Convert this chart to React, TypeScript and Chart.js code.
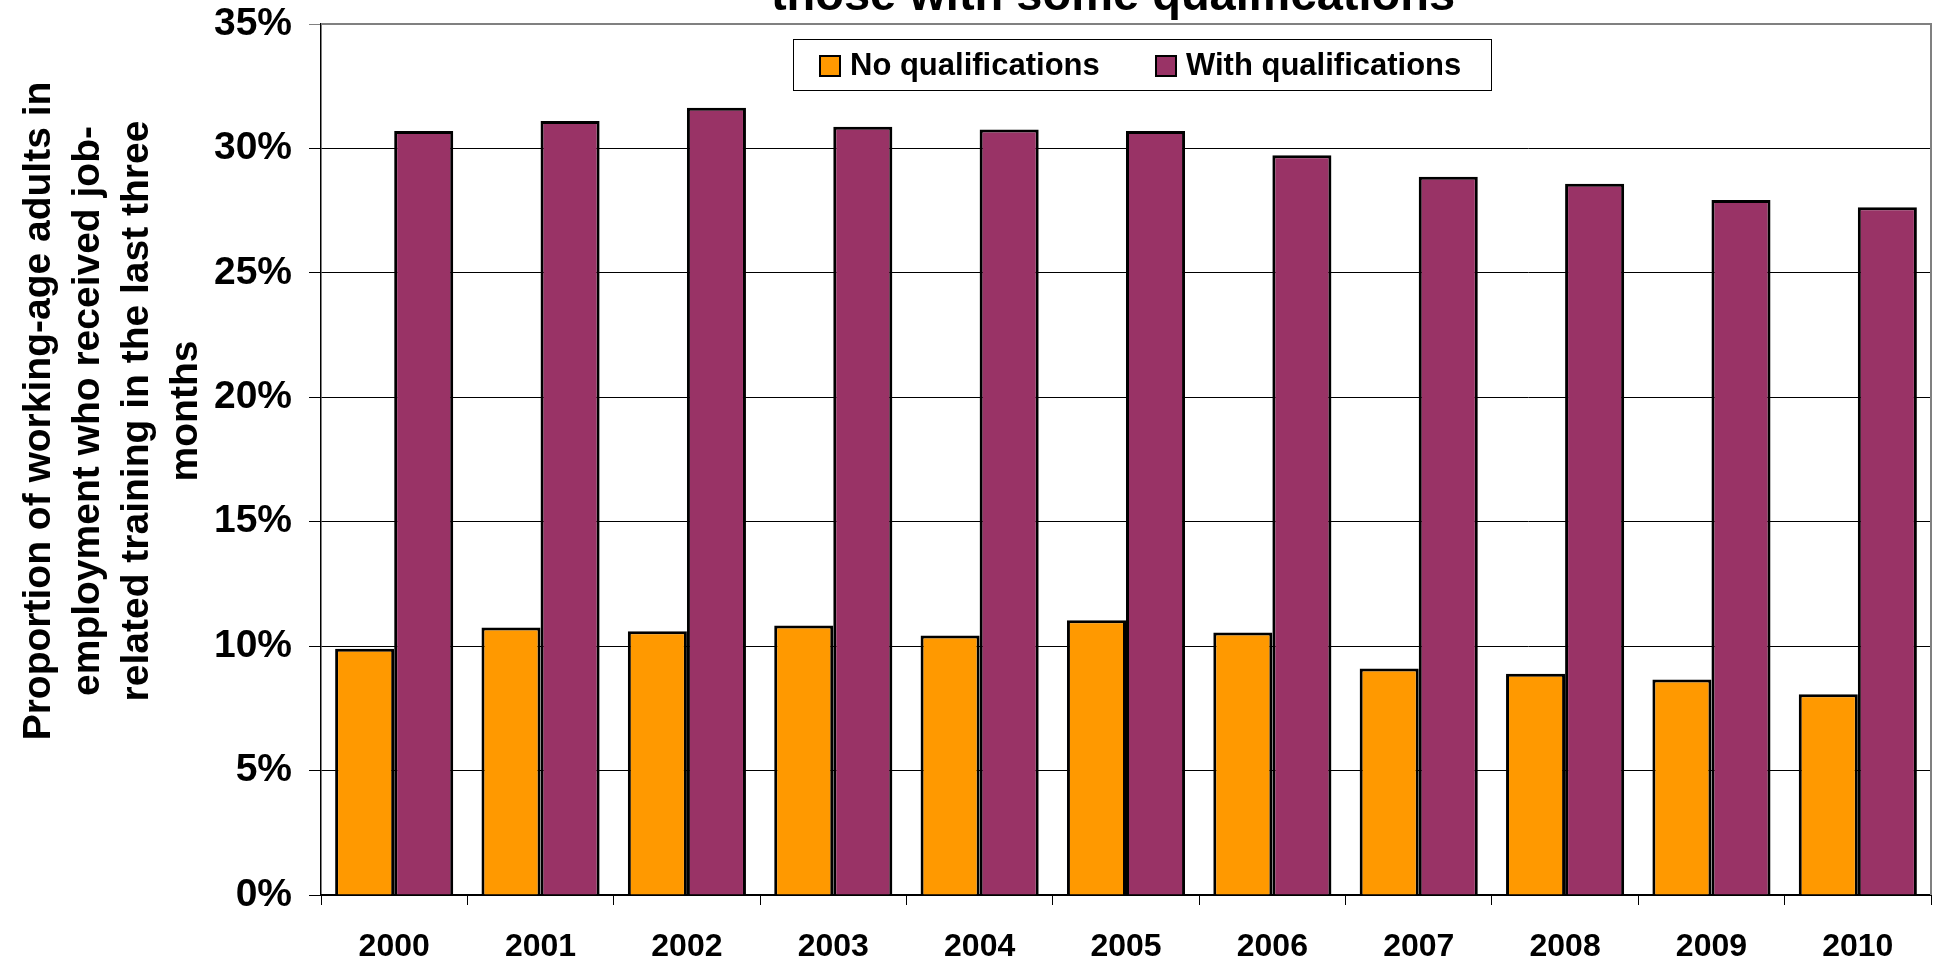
import React, { useEffect, useRef } from "react";
import { Chart, registerables } from "chart.js";

Chart.register(...registerables);

const YEARS = ["2000", "2001", "2002", "2003", "2004", "2005", "2006", "2007", "2008", "2009", "2010"];
const NO_QUAL = [9.9, 10.75, 10.6, 10.83, 10.43, 11.04, 10.55, 9.1, 8.89, 8.66, 8.07];
const WITH_QUAL = [30.7, 31.1, 31.63, 30.87, 30.76, 30.7, 29.73, 28.86, 28.58, 27.93, 27.64];
const SERIES_LABELS = ["No qualifications", "With qualifications"];
const SERIES_COLORS = ["#FF9900", "#993366"];
const TITLE_LINE = "those with some qualifications";
const Y_TITLE_LINES = [
  "Proportion of working-age adults in",
  "employment who received job-",
  "related training in the last three",
  "months",
];
const Y_MIN = 0;
const Y_MAX = 35;
const Y_STEP = 5;

const FONT = "'Liberation Sans', Arial, sans-serif";

const decorPlugin = {
  id: "decor",
  afterDraw(chart: any) {
    const ctx = chart.ctx;
    const area = chart.chartArea;
    ctx.save();
    // plot border top/right
    ctx.strokeStyle = "#808080";
    ctx.lineWidth = 2;
    ctx.beginPath();
    ctx.moveTo(area.left, area.top);
    ctx.lineTo(area.right, area.top);
    ctx.lineTo(area.right, area.bottom);
    ctx.stroke();

    // title (second line visible)
    ctx.fillStyle = "#000";
    ctx.font = `bold 47px ${FONT}`;
    ctx.textAlign = "center";
    ctx.textBaseline = "alphabetic";
    ctx.fillText(TITLE_LINE, 1113, 10);

    // y title
    ctx.save();
    ctx.translate(0, 411);
    ctx.rotate(-Math.PI / 2);
    ctx.font = `bold 39px ${FONT}`;
    ctx.textAlign = "center";
    ctx.textBaseline = "middle";
    Y_TITLE_LINES.forEach((line, i) => {
      ctx.fillText(line, 0, 39 + i * 49);
    });
    ctx.restore();

    // legend
    const bx = 793.5, by = 39.5, bw = 698, bh = 51;
    ctx.fillStyle = "#fff";
    ctx.fillRect(bx, by, bw, bh);
    ctx.strokeStyle = "#000";
    ctx.lineWidth = 1;
    ctx.strokeRect(bx, by, bw, bh);
    const swX = [820, 1156];
    const txX = [850, 1186];
    ctx.font = `bold 31px ${FONT}`;
    ctx.textAlign = "left";
    ctx.textBaseline = "middle";
    SERIES_LABELS.forEach((lab, i) => {
      ctx.fillStyle = SERIES_COLORS[i];
      ctx.fillRect(swX[i], 56, 20, 20);
      ctx.strokeStyle = "#000";
      ctx.lineWidth = 2;
      ctx.strokeRect(swX[i], 56, 20, 20);
      ctx.fillStyle = "#000";
      ctx.fillText(lab, txX[i], 66);
    });
    ctx.restore();
  },
};

export default function App() {
  const ref = useRef<HTMLCanvasElement | null>(null);
  useEffect(() => {
    if (!ref.current) return;
    const chart = new Chart(ref.current, {
      type: "bar",
      data: {
        labels: YEARS,
        datasets: [
          {
            label: SERIES_LABELS[0],
            data: NO_QUAL,
            backgroundColor: SERIES_COLORS[0],
            borderColor: "#000",
            borderWidth: 3,
            categoryPercentage: 0.807,
            barPercentage: 1,
          },
          {
            label: SERIES_LABELS[1],
            data: WITH_QUAL,
            backgroundColor: SERIES_COLORS[1],
            borderColor: "#000",
            borderWidth: 3,
            categoryPercentage: 0.807,
            barPercentage: 1,
          },
        ],
      },
      options: {
        responsive: false,
        animation: false,
        devicePixelRatio: 1,
        layout: { padding: { left: 0, right: 4, top: 24, bottom: 0 } },
        plugins: {
          legend: { display: false },
          title: { display: false },
          tooltip: { enabled: false },
        },
        scales: {
          x: {
            offset: true,
            grid: {
              offset: true,
              drawOnChartArea: false,
              drawTicks: true,
              tickLength: 10,
              color: "#000",
              lineWidth: 1,
            },
            border: { color: "#000", width: 2 },
            ticks: {
              color: "#000",
              font: { family: FONT, size: 32, weight: "bold" },
              padding: 23,
              maxRotation: 0,
              autoSkip: false,
            },
            afterFit(scale: any) {
              scale.height = 63;
              scale.paddingLeft = 0;
              scale.paddingRight = 0;
            },
          },
          y: {
            min: Y_MIN,
            max: Y_MAX,
            grid: {
              color: (c: any) => (c.tick && c.tick.value === Y_MAX ? "#808080" : "#000"),
              lineWidth: 1,
              drawTicks: true,
              tickLength: 12,
            },
            border: { color: "#000", width: 1.5 },
            ticks: {
              stepSize: Y_STEP,
              color: "#000",
              font: { family: FONT, size: 39, weight: "bold" },
              padding: 17,
              callback: (v: any) => `${v}%`,
            },
            afterFit(scale: any) {
              scale.width = 321;
              scale.paddingTop = 0;
              scale.paddingBottom = 0;
            },
          },
        },
      },
      plugins: [decorPlugin],
    });
    return () => chart.destroy();
  }, []);
  return (
    <div style={{ position: "fixed", left: 0, top: 0, width: 1935, height: 958, background: "#fff" }}>
      <canvas ref={ref} width={1935} height={958} style={{ display: "block" }} />
    </div>
  );
}
